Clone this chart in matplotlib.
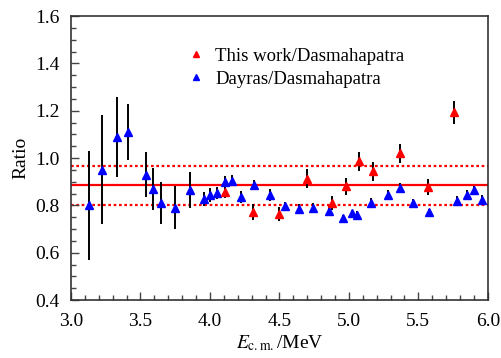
import numpy as np
import matplotlib.pyplot as plt
from matplotlib.lines import Line2D
from matplotlib.ticker import MultipleLocator

plt.rcParams['font.family'] = ['Liberation Serif', 'DejaVu Serif']
plt.rcParams['mathtext.fontset'] = 'stix'

# This work / Dasmahapatra
red_x = [4.11, 4.31, 4.50, 4.70, 4.88, 4.98, 5.07, 5.17, 5.37, 5.57, 5.76]
red_y = [0.857, 0.772, 0.765, 0.912, 0.81, 0.88, 0.987, 0.945, 1.02, 0.878, 1.193]
red_err = [0.025, 0.035, 0.03, 0.04, 0.03, 0.035, 0.04, 0.04, 0.04, 0.035, 0.05]

# Dayras / Dasmahapatra
blue_x = [3.13, 3.22, 3.33, 3.41, 3.54, 3.59, 3.65, 3.75, 3.86, 3.96, 4.00,
          4.05, 4.11, 4.16, 4.22, 4.32, 4.43, 4.54, 4.64, 4.74, 4.86, 4.96,
          5.02, 5.06, 5.16, 5.28, 5.37, 5.46, 5.58, 5.78, 5.85, 5.90, 5.96]
blue_y = [0.80, 0.95, 1.09, 1.11, 0.93, 0.87, 0.81, 0.79, 0.865, 0.826, 0.845,
          0.852, 0.898, 0.905, 0.834, 0.888, 0.843, 0.796, 0.786, 0.789, 0.777, 0.745,
          0.767, 0.76, 0.81, 0.843, 0.874, 0.81, 0.77, 0.82, 0.845, 0.864, 0.824]
blue_err = [0.23, 0.23, 0.17, 0.12, 0.095, 0.09, 0.09, 0.09, 0.075, 0.03, 0.03,
            0.025, 0.025, 0.025, 0.025, 0.02, 0.025, 0.02, 0.02, 0.02, 0.02, 0.015,
            0.015, 0.015, 0.02, 0.02, 0.02, 0.015, 0.015, 0.02, 0.02, 0.02, 0.02]

mean_ratio = 0.885
band_lo, band_hi = 0.80, 0.967

fig = plt.figure(figsize=(5.01, 3.58), dpi=100)
ax = fig.add_axes([0.1417, 0.162, 0.832, 0.793])

ax.axhline(mean_ratio, color='red', lw=1.6, zorder=1)
ax.axhline(band_lo, color='red', lw=1.6, ls=(0, (1.2, 1.2)), zorder=1)
ax.axhline(band_hi, color='red', lw=1.6, ls=(0, (1.2, 1.2)), zorder=1)

ax.errorbar(blue_x, blue_y, yerr=blue_err, fmt='^', color='blue', ms=5.5,
            ecolor='black', elinewidth=1.4, capsize=0, zorder=3)
ax.errorbar(red_x, red_y, yerr=red_err, fmt='^', color='red', ms=5.5,
            ecolor='black', elinewidth=1.4, capsize=0, zorder=3)

handles = [Line2D([], [], ls='none', marker='^', color='red', ms=4.5),
           Line2D([], [], ls='none', marker='^', color='blue', ms=4.5)]
ax.legend(handles, ['This work/Dasmahapatra', 'Dayras/Dasmahapatra'],
          loc='upper left', bbox_to_anchor=(0.265, 0.915), frameon=False,
          fontsize=13.5, handlelength=0.8, handletextpad=0.6, labelspacing=0.3,
          borderaxespad=0)

ax.set_xlim(3.0, 6.0)
ax.set_ylim(0.4, 1.6)
ax.xaxis.set_major_locator(MultipleLocator(0.5))
ax.xaxis.set_minor_locator(MultipleLocator(0.1))
ax.yaxis.set_major_locator(MultipleLocator(0.2))
ax.yaxis.set_minor_locator(MultipleLocator(0.05))
ax.xaxis.set_major_formatter(lambda v, p: f'{v:.1f}')
ax.yaxis.set_major_formatter(lambda v, p: f'{v:.1f}')
ax.tick_params(which='both', direction='in', top=False, right=False,
               labelsize=14, width=1.0, color='#444444')
ax.tick_params(which='major', length=6)
ax.tick_params(which='minor', length=3.5)
ax.tick_params(axis='x', which='major', pad=9)
ax.tick_params(axis='y', which='major', pad=8)
for s in ax.spines.values():
    s.set_linewidth(1.2)
    s.set_color('#333333')

ax.set_ylabel('Ratio', fontsize=14, labelpad=4)
ax.set_xlabel(r'$E_{\rm c.m.}$/MeV', fontsize=14, labelpad=3)

fig.savefig('out.png', dpi=100)
